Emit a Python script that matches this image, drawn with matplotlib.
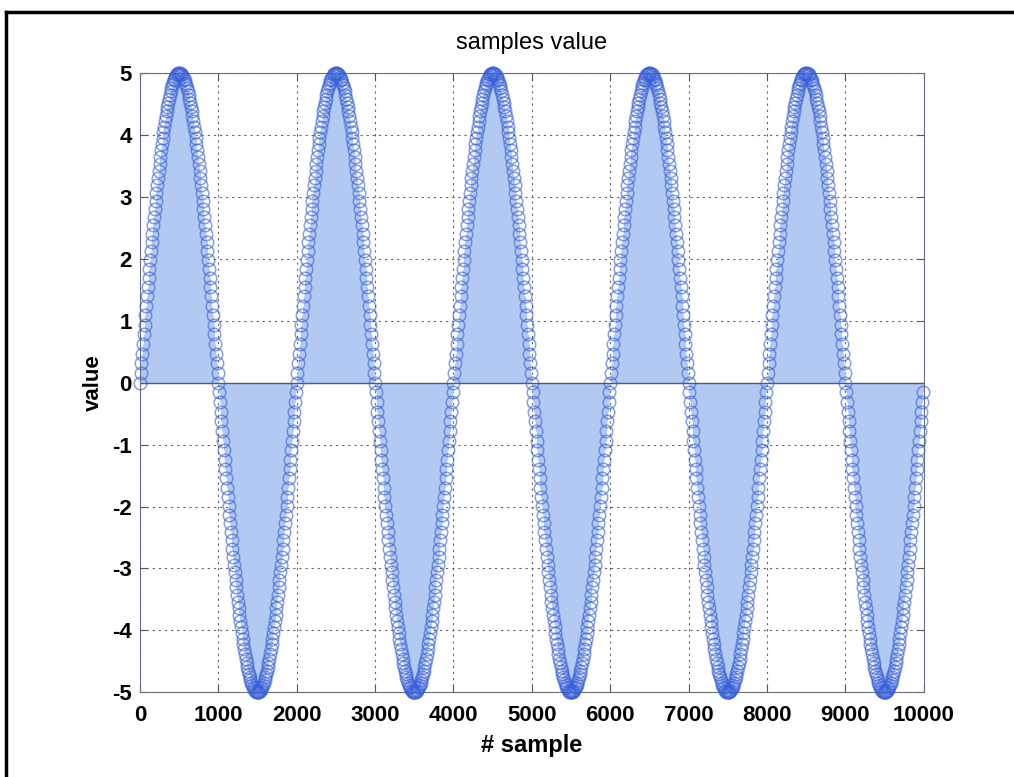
#!/usr/bin/env python3
# -*- coding: utf-8 -*-

import numpy as np
import matplotlib
matplotlib.use("Agg")
import matplotlib.pyplot as plt
from matplotlib.lines import Line2D

# ---------------- dados ----------------
# senoide amostrada: amplitude 5, periodo 2000 amostras, uma amostra a cada 10
AMPLITUDE = 5.0
PERIOD = 2000
STEP = 10
N_SAMPLES = 10000

x_ticks = [0, 1000, 2000, 3000, 4000, 5000, 6000, 7000, 8000, 9000, 10000]
y_ticks = [-5, -4, -3, -2, -1, 0, 1, 2, 3, 4, 5]

n = np.arange(0, N_SAMPLES, STEP)
vals = AMPLITUDE * np.sin(2 * np.pi * n / PERIOD)

# ---------------- plot ----------------
plt.rcParams["font.family"] = ["Liberation Sans", "DejaVu Sans"]
plt.rcParams["axes.unicode_minus"] = False

fig = plt.figure(figsize=(10.14, 7.77), dpi=100)
ax = fig.add_axes([0.138, 0.109, 0.773, 0.797])

ml, sl, bl = ax.stem(n, vals)
plt.setp(sl, color="#b2caf2", linewidth=0.9)
plt.setp(ml, marker="o", markersize=9, markerfacecolor="none",
         markeredgecolor="#3a60d8", markeredgewidth=1.1, alpha=0.6,
         clip_on=False, zorder=4)
plt.setp(bl, color="#4a5a80", linewidth=1.0)

ax.set_xlim(0, 10000)
ax.set_ylim(-5, 5)
ax.set_xticks(x_ticks)
ax.set_yticks(y_ticks)
ax.tick_params(direction="in", length=5, top=True, right=True,
               labelsize=16, colors="#555555", labelcolor="black")
ax.tick_params(axis="x", pad=9)
ax.tick_params(axis="y", pad=6)
for lab in ax.get_xticklabels() + ax.get_yticklabels():
    lab.set_fontweight("bold")
ax.grid(True, color="#666666", linestyle=(0, (2, 3.5)), linewidth=0.8)
for sp in ax.spines.values():
    sp.set_color("#6a6f80")

ax.set_title("samples value", fontsize=17, pad=17)
ax.set_xlabel("# sample", fontsize=17, fontweight="bold", labelpad=6)
ax.set_ylabel("value", fontsize=16, fontweight="bold", labelpad=6)

# moldura preta (esquerda e topo)
fig.add_artist(Line2D([0.0064, 0.0064], [0.0, 0.984], color="black", linewidth=2.5,
                      transform=fig.transFigure))
fig.add_artist(Line2D([0.0064, 1.0], [0.984, 0.984], color="black", linewidth=2.5,
                      transform=fig.transFigure))

fig.savefig("out.png", dpi=100)
